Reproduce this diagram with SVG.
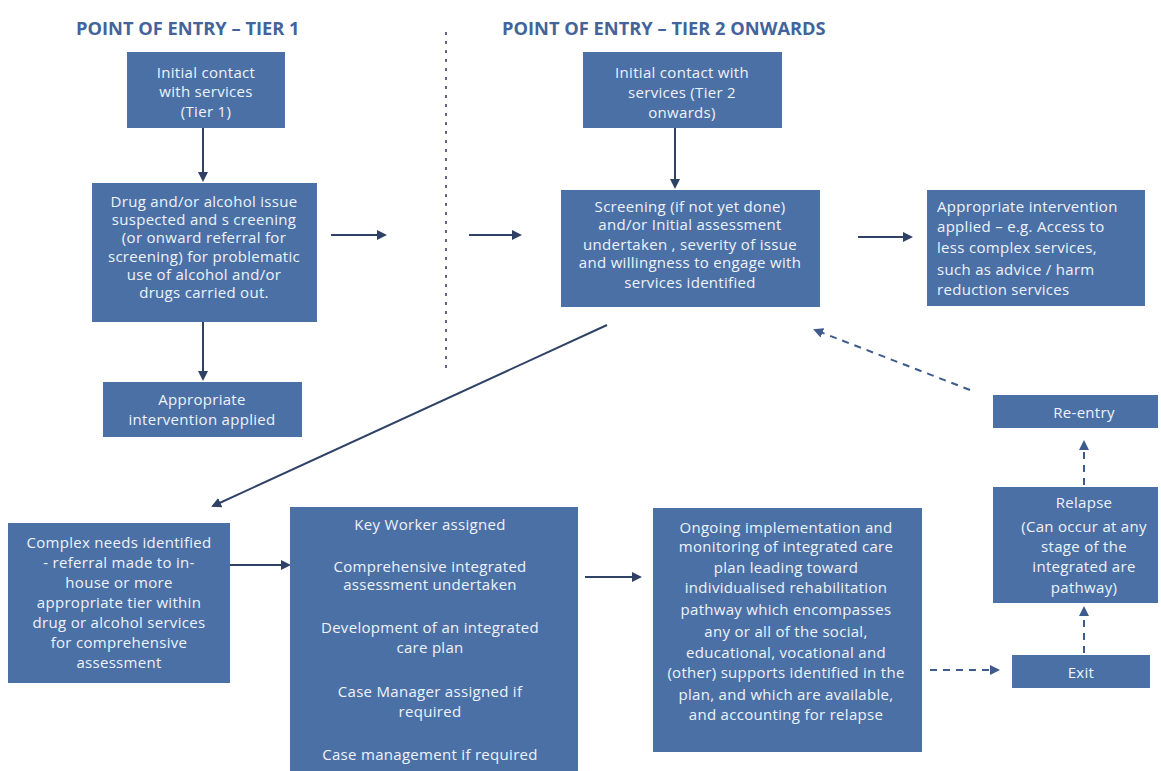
<svg xmlns="http://www.w3.org/2000/svg" width="1161" height="771" viewBox="0 0 1161 771">
<style>
.box{fill:#4b70a6;}
.t{font-family:"Open Sans","Liberation Sans",sans-serif;font-size:15px;letter-spacing:0.3px;fill:#eef3fb;text-anchor:middle;}
.tl{text-anchor:start;}
.h{font-family:"Open Sans","Liberation Sans",sans-serif;font-size:18.3px;font-weight:bold;fill:#44639b;}
.c{stroke:#2f4266;stroke-width:2;fill:none;}
.d{stroke:#3d5b8c;stroke-width:2;fill:none;stroke-dasharray:7,6;}
.v{stroke:#5a6a85;stroke-width:2;fill:none;stroke-dasharray:3,6;}
</style>
<defs>
<marker id="ah" markerWidth="10" markerHeight="10" refX="8" refY="5" orient="auto" markerUnits="userSpaceOnUse">
<path d="M0,0 L10,5 L0,10 z" fill="#2f4266"/>
</marker>
<marker id="ahd" markerWidth="10" markerHeight="10" refX="8" refY="5" orient="auto" markerUnits="userSpaceOnUse">
<path d="M0,0 L10,5 L0,10 z" fill="#3d5b8c"/>
</marker>
</defs>
<rect width="1161" height="771" fill="#ffffff"/>
<g id="headers">
<text class="h" x="76" y="35">POINT OF ENTRY – TIER 1</text>
<text class="h" x="502" y="35">POINT OF ENTRY – TIER 2 ONWARDS</text>
</g>
<g id="connectors">
<line class="v" x1="446" y1="32" x2="446" y2="372"/>
<line class="c" x1="203" y1="128" x2="203" y2="180" marker-end="url(#ah)"/>
<line class="c" x1="203" y1="322" x2="203" y2="379" marker-end="url(#ah)"/>
<line class="c" x1="675" y1="128" x2="675" y2="187" marker-end="url(#ah)"/>
<line class="c" x1="331" y1="235" x2="385" y2="235" marker-end="url(#ah)"/>
<line class="c" x1="469" y1="235" x2="520" y2="235" marker-end="url(#ah)"/>
<line class="c" x1="858" y1="237" x2="911" y2="237" marker-end="url(#ah)"/>
<line class="c" x1="607" y1="325" x2="213" y2="506" marker-end="url(#ah)"/>
<line class="c" x1="230" y1="565" x2="289" y2="565" marker-end="url(#ah)"/>
<line class="c" x1="585" y1="577" x2="640" y2="577" marker-end="url(#ah)"/>
<line class="d" x1="930" y1="670" x2="998" y2="670" marker-end="url(#ahd)"/>
<line class="d" x1="1084" y1="653" x2="1084" y2="608" marker-end="url(#ahd)"/>
<line class="d" x1="1084" y1="485" x2="1084" y2="442" marker-end="url(#ahd)"/>
<line class="d" x1="970" y1="390" x2="815" y2="330" marker-end="url(#ahd)"/>
</g>
<g id="n1"><rect class="box" x="127" y="52" width="158" height="76"/>
<text class="t" x="206" y="78">Initial contact</text>
<text class="t" x="206" y="97">with services</text>
<text class="t" x="206" y="117">(Tier 1)</text></g>
<g id="n2"><rect class="box" x="92" y="183" width="225" height="139"/>
<text class="t" x="204" y="207">Drug and/or alcohol issue</text>
<text class="t" x="204" y="225">suspected and s  creening</text>
<text class="t" x="204" y="243">(or onward referral for</text>
<text class="t" x="204" y="262">screening) for problematic</text>
<text class="t" x="204" y="280">use of alcohol and/or</text>
<text class="t" x="204" y="298">drugs carried out.</text></g>
<g id="n3"><rect class="box" x="103" y="382" width="199" height="55"/>
<text class="t" x="202" y="405">Appropriate</text>
<text class="t" x="202" y="425">intervention applied</text></g>
<g id="n4"><rect class="box" x="583" y="52" width="199" height="76"/>
<text class="t" x="682" y="78">Initial contact with</text>
<text class="t" x="682" y="98">services (Tier 2</text>
<text class="t" x="682" y="118">onwards)</text></g>
<g id="n5"><rect class="box" x="561" y="190" width="259" height="117"/>
<text class="t" x="690" y="212">Screening (if not yet done)</text>
<text class="t" x="690" y="230">and/or Initial assessment</text>
<text class="t" x="690" y="250">undertaken , severity of issue</text>
<text class="t" x="690" y="268">and willingness to engage with</text>
<text class="t" x="690" y="288">services identified</text></g>
<g id="n6"><rect class="box" x="927" y="190" width="218" height="116"/>
<text class="t tl" x="937" y="212">Appropriate intervention</text>
<text class="t tl" x="937" y="232">applied – e.g. Access to</text>
<text class="t tl" x="937" y="253">less complex services,</text>
<text class="t tl" x="937" y="275">such as advice / harm</text>
<text class="t tl" x="937" y="295">reduction services</text></g>
<g id="n7"><rect class="box" x="8" y="523" width="222" height="160"/>
<text class="t" x="119" y="548">Complex needs identified</text>
<text class="t" x="119" y="568">- referral made to in-</text>
<text class="t" x="119" y="588">house or more</text>
<text class="t" x="119" y="608">appropriate tier within</text>
<text class="t" x="119" y="628">drug or alcohol services</text>
<text class="t" x="119" y="648">for comprehensive</text>
<text class="t" x="119" y="668">assessment</text></g>
<g id="n8"><rect class="box" x="290" y="507" width="288" height="270"/>
<text class="t" x="430" y="530">Key Worker assigned</text>
<text class="t" x="430" y="572">Comprehensive integrated</text>
<text class="t" x="430" y="590">assessment undertaken</text>
<text class="t" x="430" y="633">Development of an integrated</text>
<text class="t" x="430" y="653">care plan</text>
<text class="t" x="430" y="697">Case Manager assigned if</text>
<text class="t" x="430" y="717">required</text>
<text class="t" x="430" y="760">Case management if required</text></g>
<g id="n9"><rect class="box" x="653" y="508" width="269" height="244"/>
<text class="t" x="786" y="533">Ongoing implementation and</text>
<text class="t" x="786" y="552">monitoring of integrated care</text>
<text class="t" x="786" y="573">plan leading toward</text>
<text class="t" x="786" y="593">individualised rehabilitation</text>
<text class="t" x="786" y="615">pathway which encompasses</text>
<text class="t" x="786" y="637">any or all of the social,</text>
<text class="t" x="786" y="658">educational, vocational and</text>
<text class="t" x="786" y="678">(other) supports identified in the</text>
<text class="t" x="786" y="700">plan, and which are available,</text>
<text class="t" x="786" y="720">and accounting for relapse</text></g>
<g id="n10"><rect class="box" x="993" y="395" width="165" height="33"/>
<text class="t" x="1084" y="418">Re-entry</text></g>
<g id="n11"><rect class="box" x="993" y="487" width="165" height="116"/>
<text class="t" x="1084" y="508">Relapse</text>
<text class="t" x="1084" y="532">(Can occur at any</text>
<text class="t" x="1084" y="552">stage of the</text>
<text class="t" x="1084" y="572">integrated are</text>
<text class="t" x="1084" y="593">pathway)</text></g>
<g id="n12"><rect class="box" x="1012" y="655" width="138" height="33"/>
<text class="t" x="1081" y="678">Exit</text></g>
</svg>
